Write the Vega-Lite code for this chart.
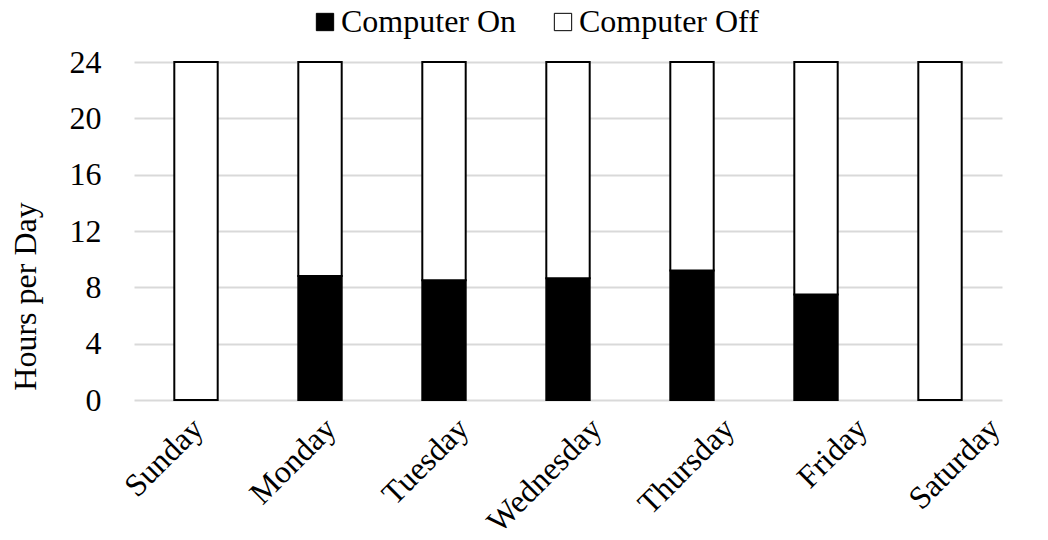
{
  "$schema": "https://vega.github.io/schema/vega-lite/v6.json",
  "width": 868,
  "height": 338,
  "autosize": {"type": "none"},
  "padding": {"left": 134, "top": 62, "right": 46, "bottom": 140},
  "background": "white",
  "config": {
    "font": "Liberation Serif",
    "view": {"stroke": null}
  },
  "data": {
    "values": [
      {"day": "Sunday", "series": "Computer On", "hours": 0},
      {"day": "Sunday", "series": "Computer Off", "hours": 24},
      {"day": "Monday", "series": "Computer On", "hours": 8.8},
      {"day": "Monday", "series": "Computer Off", "hours": 15.2},
      {"day": "Tuesday", "series": "Computer On", "hours": 8.5},
      {"day": "Tuesday", "series": "Computer Off", "hours": 15.5},
      {"day": "Wednesday", "series": "Computer On", "hours": 8.65},
      {"day": "Wednesday", "series": "Computer Off", "hours": 15.35},
      {"day": "Thursday", "series": "Computer On", "hours": 9.2},
      {"day": "Thursday", "series": "Computer Off", "hours": 14.8},
      {"day": "Friday", "series": "Computer On", "hours": 7.5},
      {"day": "Friday", "series": "Computer Off", "hours": 16.5},
      {"day": "Saturday", "series": "Computer On", "hours": 0},
      {"day": "Saturday", "series": "Computer Off", "hours": 24}
    ]
  },
  "mark": {"type": "bar", "stroke": "black", "strokeWidth": 2},
  "encoding": {
    "x": {
      "field": "day",
      "type": "nominal",
      "sort": ["Sunday", "Monday", "Tuesday", "Wednesday", "Thursday", "Friday", "Saturday"],
      "scale": {"paddingInner": 0.65, "paddingOuter": 0.325},
      "axis": {
        "title": null,
        "labelAngle": -45,
        "labelAlign": "right",
        "labelBaseline": "middle",
        "labelFontSize": 32,
        "labelColor": "black",
        "labelPadding": 23,
        "labelOffset": {"expr": "2 + 8.8 * indexof(['Sunday','Monday','Tuesday','Wednesday','Thursday','Friday','Saturday'], datum.value)"},
        "labelLimit": 0,
        "ticks": false,
        "domain": false,
        "grid": false
      }
    },
    "y": {
      "field": "hours",
      "type": "quantitative",
      "stack": "zero",
      "scale": {"domain": [0, 24], "nice": false},
      "axis": {
        "title": "Hours per Day",
        "titleFontSize": 32,
        "titleFontWeight": "normal",
        "titleColor": "black",
        "titleX": -109,
        "titleY": 234,
        "titleAlign": "center",
        "titleBaseline": "middle",
        "titleAngle": -90,
        "values": [0, 4, 8, 12, 16, 20, 24],
        "labelFontSize": 32,
        "labelColor": "black",
        "labelPadding": 33,
        "ticks": false,
        "domain": false,
        "grid": true,
        "gridColor": "#d9d9d9",
        "gridWidth": 2
      }
    },
    "color": {
      "field": "series",
      "type": "nominal",
      "scale": {"domain": ["Computer On", "Computer Off"], "range": ["black", "white"]},
      "legend": {
        "title": null,
        "orient": "none",
        "direction": "horizontal",
        "legendX": 175,
        "legendY": -56,
        "labelFontSize": 32,
        "labelColor": "black",
        "labelLimit": 0,
        "symbolType": "square",
        "symbolSize": 300,
        "symbolStrokeColor": "black",
        "symbolStrokeWidth": 1,
        "labelOffset": 0,
        "columnPadding": 30
      }
    },
    "order": {"field": "series", "sort": "descending"}
  }
}
